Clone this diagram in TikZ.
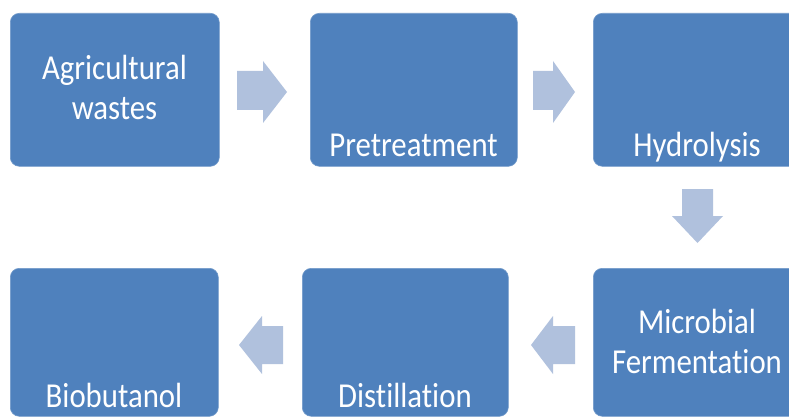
\documentclass[tikz,border=0pt]{standalone}
\usepackage{fontspec}
\setmainfont[FakeStretch=0.88,Ligatures=NoCommon]{Carlito}
\definecolor{boxblue}{HTML}{4F81BD}
\definecolor{arrowblue}{HTML}{B0C1DD}
\begin{document}
\begin{tikzpicture}[x=1pt,y=-1pt,
  stagebox/.style={draw=boxblue!80!white,line width=0.6pt,fill=boxblue,rounded corners=9pt,inner sep=0pt,anchor=north west},
  stagetext/.style={text=white,font=\fontsize{35}{40}\selectfont,align=center,inner sep=0pt,anchor=base},
  blockarrow/.style={fill=arrowblue}]
\useasboundingbox (0,0) rectangle (789,417);
\fill[white] (0,0) rectangle (789,417);
% boxes
\node[stagebox,minimum width=209pt,minimum height=153pt] (agri) at (10,13) {};
\node[stagebox,minimum width=207pt,minimum height=153pt] (pre) at (310,13) {};
\node[stagebox,minimum width=209pt,minimum height=153pt] (hyd) at (593,13) {};
\node[stagebox,minimum width=209pt,minimum height=148pt] (mic) at (593,268) {};
\node[stagebox,minimum width=206pt,minimum height=148pt] (dis) at (302,268) {};
\node[stagebox,minimum width=208pt,minimum height=148pt] (bio) at (10,268) {};
% texts
\node[stagetext] (agritxt) at (114.5,120) {Agricultural\\wastes};
\node[stagetext] (pretxt) at (413.5,156) {Pretreatment};
\node[stagetext] (hydtxt) at (697,156) {Hydrolysis};
\node[stagetext] (mictxt) at (697,373) {Microbial\\Fermentation};
\node[stagetext] (distxt) at (405,407) {Distillation};
\node[stagetext] (biotxt) at (114,407) {Biobutanol};
% block arrows
\fill[blockarrow] (237,71) -- (263,71) -- (263,61) -- (287,92) -- (263,123) -- (263,110) -- (237,110) -- cycle;
\fill[blockarrow] (533,71) -- (553,71) -- (553,61) -- (575,92) -- (553,123) -- (553,110) -- (533,110) -- cycle;
\fill[blockarrow] (682,189) -- (713,189) -- (713,216) -- (723,216) -- (697.5,243) -- (672,216) -- (682,216) -- cycle;
\fill[blockarrow] (575,326) -- (553,326) -- (553,316) -- (531,345) -- (553,374) -- (553,364) -- (575,364) -- cycle;
\fill[blockarrow] (283,326) -- (262,326) -- (262,316) -- (239,345) -- (262,374) -- (262,364) -- (283,364) -- cycle;
\end{tikzpicture}
\end{document}
